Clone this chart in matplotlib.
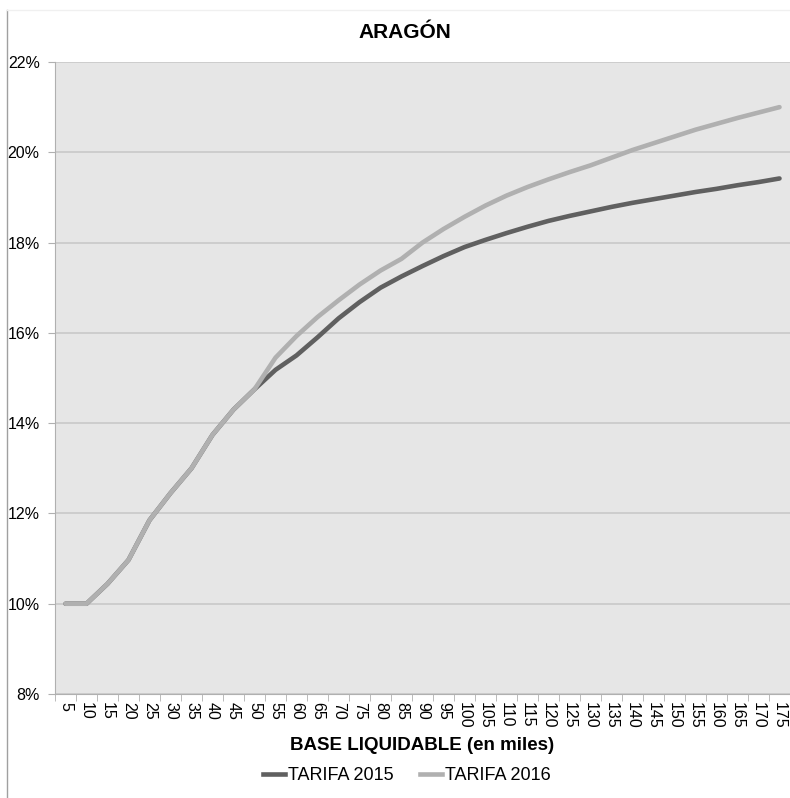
import matplotlib.pyplot as plt
from matplotlib.lines import Line2D
from matplotlib.ticker import FixedLocator

# Data
base = list(range(5, 180, 5))
tarifa_2015 = [10.0, 10.0, 10.44, 10.97, 11.85, 12.45, 13.0, 13.74, 14.3, 14.75,
               15.18, 15.5, 15.9, 16.32, 16.68, 17.0, 17.25, 17.48, 17.7, 17.9,
               18.06, 18.21, 18.35, 18.48, 18.59, 18.69, 18.79, 18.88, 18.96, 19.04,
               19.12, 19.19, 19.27, 19.34, 19.42]
tarifa_2016 = [10.0, 10.0, 10.44, 10.97, 11.85, 12.45, 13.0, 13.74, 14.3, 14.75,
               15.45, 15.93, 16.35, 16.72, 17.07, 17.38, 17.64, 18.0, 18.3, 18.57,
               18.82, 19.04, 19.23, 19.4, 19.56, 19.71, 19.88, 20.05, 20.2, 20.35,
               20.5, 20.63, 20.76, 20.88, 21.0]
y_ticks = [8, 10, 12, 14, 16, 18, 20, 22]

plt.rcParams['font.family'] = ['Liberation Sans', 'DejaVu Sans']

fig = plt.figure(figsize=(7.9, 7.98), dpi=100)
ax = fig.add_axes([55 / 790, 1 - 694 / 798, 735 / 790, (694 - 62) / 798])
ax.set_facecolor('#e6e6e6')

pos = list(range(len(base)))
ax.plot(pos, tarifa_2015, color='#606060', lw=3.3, solid_capstyle='round', zorder=3,
        label='TARIFA 2015')
ax.plot(pos, tarifa_2016, color='#b0b0b0', lw=3.3, solid_capstyle='round', zorder=4,
        label='TARIFA 2016')

ax.set_xlim(-0.5, len(base) - 0.5)
ax.set_ylim(8, 22)
ax.set_yticks(y_ticks)
ax.set_yticklabels([f'{v}%' for v in y_ticks], fontsize=11.5)
ax.yaxis.grid(True, color='#c8c8c8', lw=1.2)
ax.set_axisbelow(True)

ax.set_xticks(pos)
ax.set_xticklabels([str(b) for b in base], rotation=-90, fontsize=11.5)
ax.tick_params(axis='x', length=0, pad=6)
ax.xaxis.set_minor_locator(FixedLocator([p - 0.5 for p in pos] + [len(base) - 0.5]))
ax.tick_params(axis='x', which='minor', length=5, color='#b0b0b0')
ax.tick_params(axis='y', length=5, color='#b0b0b0', pad=6)

for s in ['top', 'right']:
    ax.spines[s].set_visible(False)
for s in ['left', 'bottom']:
    ax.spines[s].set_color('#b0b0b0')

fig.text(405 / 790, 1 - 33 / 798, 'ARAGÓN', ha='center', va='center',
         fontsize=15, fontweight='bold')
fig.text(422 / 790, 1 - 745 / 798, 'BASE LIQUIDABLE (en miles)', ha='center', va='center',
         fontsize=13.5, fontweight='bold')

handles = [Line2D([], [], color='#606060', lw=3.3), Line2D([], [], color='#b0b0b0', lw=3.3)]
fig.legend(handles, ['TARIFA 2015', 'TARIFA 2016'], loc='center',
           bbox_to_anchor=(407 / 790, 1 - 776 / 798), ncol=2, frameon=False,
           fontsize=13, handlelength=1.2, handletextpad=0.15, columnspacing=1.5)

# chart frame
fig.add_artist(Line2D([7 / 790, 7 / 790], [0, 1 - 10 / 798], color='#a0a0a0', lw=1,
                      transform=fig.transFigure))
fig.add_artist(Line2D([7 / 790, 1], [1 - 10 / 798, 1 - 10 / 798], color='#f0f0f0', lw=1,
                      transform=fig.transFigure))

fig.savefig('out.png', dpi=100)
